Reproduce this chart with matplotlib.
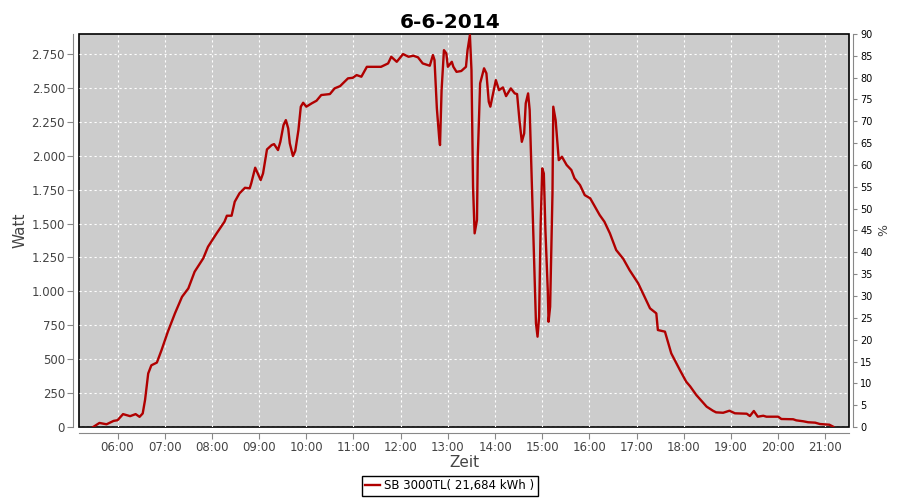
import matplotlib
matplotlib.use('Agg')
import matplotlib.pyplot as plt
import matplotlib.dates as mdates
from matplotlib.ticker import FuncFormatter, MultipleLocator
import pandas as pd

day = "2014-06-06"
title = "6-6-2014"
series_label = "SB 3000TL( 21,684 kWh )"

times = ["05:29", "05:37", "05:46", "05:55", "06:00", "06:07", "06:16", "06:23", "06:28", "06:32",
         "06:35", "06:39", "06:43", "06:50", "06:56", "07:04", "07:13", "07:22", "07:30", "07:38",
         "07:49", "07:55", "08:06", "08:16", "08:19", "08:25", "08:29", "08:35", "08:42", "08:48",
         "08:50", "08:55", "09:02", "09:05", "09:10", "09:16", "09:19", "09:24", "09:27", "09:31",
         "09:34", "09:37", "09:39", "09:43", "09:46", "09:50", "09:53", "09:56", "10:00", "10:07",
         "10:13", "10:19", "10:30", "10:36", "10:43", "10:53", "10:59", "11:04", "11:10", "11:17",
         "11:35", "11:44", "11:48", "11:55", "12:03", "12:10", "12:16", "12:22", "12:28", "12:37",
         "12:41", "12:43", "12:46", "12:49", "12:50", "12:52", "12:55", "12:58", "13:00", "13:05",
         "13:07", "13:11", "13:17", "13:23", "13:25", "13:28", "13:30", "13:32", "13:34", "13:37",
         "13:38", "13:41", "13:46", "13:49", "13:52", "13:54", "13:58", "14:01", "14:05", "14:10",
         "14:14", "14:20", "14:25", "14:28", "14:31", "14:34", "14:37", "14:39", "14:42", "14:44",
         "14:46", "14:49", "14:52", "14:54", "14:56", "14:58", "15:00", "15:02", "15:04", "15:07",
         "15:08", "15:10", "15:13", "15:14", "15:17", "15:19", "15:21", "15:25", "15:31", "15:37",
         "15:41", "15:48", "15:54", "16:01", "16:07", "16:13", "16:19", "16:26", "16:34", "16:43",
         "16:51", "17:02", "17:10", "17:17", "17:25", "17:27", "17:36", "17:44", "17:55", "18:03",
         "18:08", "18:16", "18:29", "18:37", "18:41", "18:50", "18:58", "19:05", "19:20", "19:24",
         "19:29", "19:34", "19:41", "19:45", "20:00", "20:04", "20:19", "20:23", "20:32", "20:38",
         "20:47", "20:53", "21:05", "21:10"]

watt = [0, 30, 20, 45, 50, 95, 80, 95, 75, 100,
        200, 395, 455, 475, 568, 703, 838, 960, 1022, 1145,
        1244, 1329, 1428, 1514, 1558, 1558, 1661, 1723, 1764, 1760,
        1797, 1912, 1821, 1870, 2047, 2079, 2086, 2042, 2103, 2226,
        2263, 2202, 2092, 1998, 2037, 2190, 2362, 2391, 2362, 2387,
        2406, 2448, 2455, 2497, 2514, 2571, 2575, 2595, 2583, 2656,
        2656, 2681, 2730, 2693, 2750, 2730, 2738, 2726, 2681, 2664,
        2743, 2706, 2349, 2128, 2079, 2484, 2779, 2755, 2656, 2693,
        2656, 2619, 2625, 2656, 2779, 2890, 2632, 1772, 1428, 1526,
        1993, 2534, 2645, 2608, 2398, 2362, 2472, 2558, 2484, 2504,
        2440, 2497, 2460, 2455, 2263, 2103, 2165, 2387, 2460, 2337,
        1944, 1379, 765, 666, 813, 1502, 1907, 1870, 1452, 1010,
        776, 887, 1723, 2362, 2263, 2116, 1968, 1993, 1932, 1895,
        1834, 1784, 1710, 1686, 1624, 1563, 1514, 1428, 1305, 1240,
        1157, 1059, 960, 875, 838, 715, 703, 543, 420, 334,
        300, 235, 150, 120, 108, 105, 120, 101, 98, 81,
        118, 76, 83, 76, 76, 59, 57, 49, 42, 35,
        32, 22, 17, 2]

t = pd.to_datetime([day + " " + s for s in times])

fig = plt.figure(figsize=(9, 5), dpi=100)
ax = fig.add_axes([79/900, 1-427/500, 770/900, 393/500])
ax.set_facecolor('#cccccc')
ax.patch.set_edgecolor('black')
ax.patch.set_linewidth(1.2)

ax.plot(t, watt, color='#b00000', lw=1.7, label=series_label)

ax.set_xlim(pd.Timestamp(day + " 05:11"), pd.Timestamp(day + " 21:30"))
ax.set_ylim(0, 2898)
ax.yaxis.set_major_locator(MultipleLocator(250))
ax.yaxis.set_major_formatter(FuncFormatter(lambda v, p: f"{int(v):,}".replace(",", ".")))
ax.xaxis.set_major_locator(mdates.HourLocator(byhour=range(6, 22)))
ax.xaxis.set_major_formatter(mdates.DateFormatter("%H:%M"))
ax.grid(True, color='white', ls=(0, (2, 2.5)), lw=0.8)

for s in ['top', 'right']:
    ax.spines[s].set_visible(False)
for s in ['left', 'bottom']:
    ax.spines[s].set_position(('outward', 4))
    ax.spines[s].set_color('#888888')
ax.tick_params(colors='#888888', labelcolor='#444444', labelsize=8.5, length=4, pad=2)
ax.set_ylabel("Watt", fontsize=11, color='#444444', labelpad=3)
ax.set_xlabel("Zeit", fontsize=11, color='#444444', labelpad=1)

ax2 = ax.twinx()
ax2.set_ylim(0, 90)
ax2.yaxis.set_major_locator(MultipleLocator(5))
for s in ['top', 'left', 'bottom']:
    ax2.spines[s].set_visible(False)
ax2.spines['right'].set_position(('outward', 3))
ax2.spines['right'].set_color('#888888')
ax2.tick_params(colors='#888888', labelcolor='black', labelsize=7, length=3, pad=2)
ax2.set_ylabel("%", fontsize=9, color='#444444', labelpad=3)

fig.suptitle(title, fontsize=14.5, fontweight='bold', y=0.975)

leg = fig.legend(loc='center', bbox_to_anchor=(0.5, 1-486/500), fancybox=False,
                 edgecolor='black', fontsize=8.5, handlelength=1.2, borderpad=0.3,
                 handletextpad=0.4, framealpha=1)
leg.get_frame().set_linewidth(1)

fig.savefig("out.png", dpi=100)
plt.close("all")
